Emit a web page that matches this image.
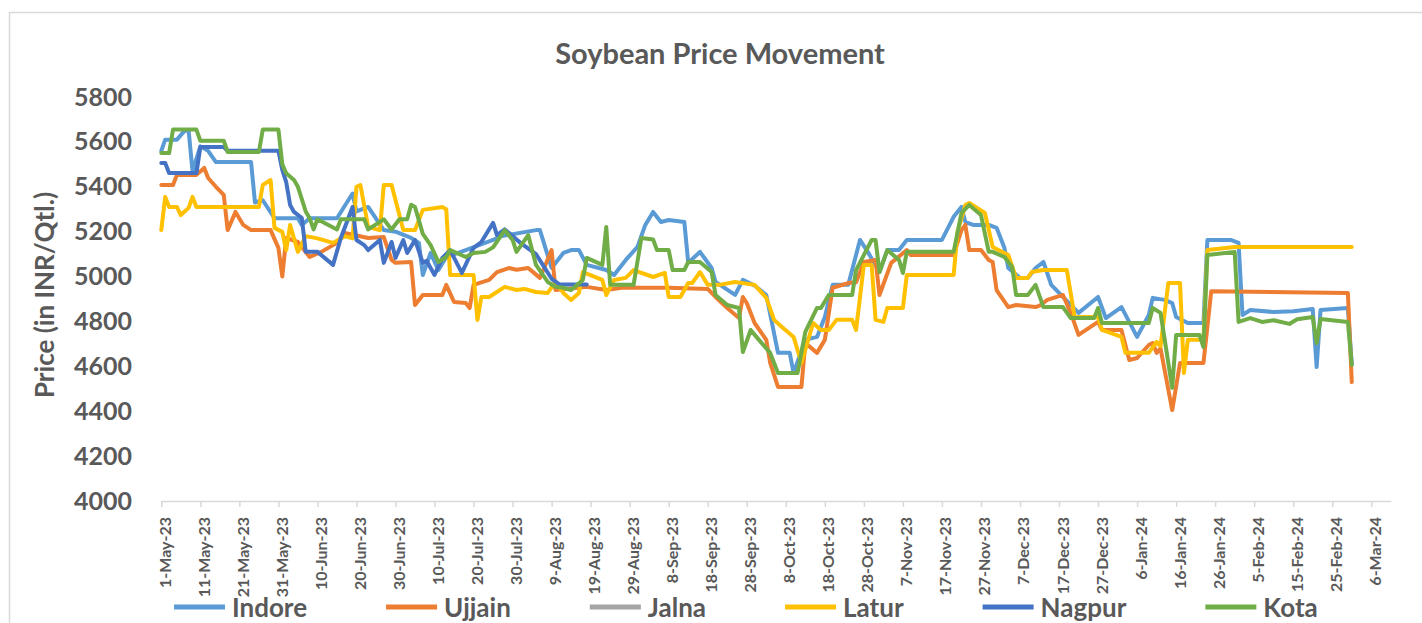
<!DOCTYPE html>
<html>
<head>
<meta charset="utf-8">
<script src="https://cdn.jsdelivr.net/npm/d3@7"></script>
<style>
  body { margin: 0; background: #fff; }
  text { font-family: Lato, 'Open Sans', sans-serif; font-weight: 700; fill: #595959; }
</style>
</head>
<body>
<div id="chart"></div>
<script>
// x values are days counted from 1-May-23, y values are INR/Qtl.
const startDate = new Date(2023, 4, 1)

const indore = [[0,5560],[1,5610],[4,5610],[6,5650],[7,5650],[8,5470],[10,5580],[12,5560],[14,5510],[23,5510],[24,5330],[26,5340],[29,5260],[35,5260],[36,5230],[38,5260],[45,5260],[49,5370],[50,5290],[53,5310],[57,5207],[60,5200],[64,5172],[66,5150],[67,5007],[69,5105],[71,5029],[73,5087],[78,5118],[85,5163],[87,5180],[96,5207],[97,5207],[100,5038],[103,5105],[105,5118],[107,5118],[109,5052],[114,5029],[116,5007],[119,5074],[122,5132],[124,5230],[126,5288],[128,5243],[130,5252],[134,5243],[135,5061],[138,5110],[141,5038],[142,4976],[147,4918],[149,4985],[152,4960],[155,4918],[158,4660],[161,4660],[162,4570],[165,4718],[168,4731],[170,4820],[172,4963],[176,4963],[179,5163],[181,5110],[184,5020],[186,5118],[189,5118],[191,5163],[200,5163],[203,5266],[205,5310],[206,5243],[208,5230],[212,5230],[214,5217],[216,5128],[217,5038],[220,4994],[222,4994],[224,5038],[226,5065],[228,4963],[235,4838],[240,4909],[242,4815],[246,4864],[250,4731],[253,4829],[254,4905],[257,4896],[259,4882],[260,4820],[263,4793],[267,4793],[268,5163],[274,5163],[276,5150],[277,4829],[279,4851],[285,4842],[290,4845],[295,4855],[296,4597],[297,4851],[304,4860],[305,4610]]

const ujjain = [[0,5408],[3,5408],[4,5453],[9,5453],[11,5484],[12,5439],[14,5400],[16,5364],[17,5207],[19,5288],[21,5230],[23,5207],[28,5207],[30,5128],[31,5000],[32,5172],[35,5154],[38,5087],[41,5110],[45,5150],[47,5194],[53,5172],[57,5176],[59,5074],[60,5061],[64,5065],[65,4873],[67,4918],[72,4918],[73,4963],[75,4887],[78,4882],[79,4860],[80,4963],[84,4985],[86,5020],[89,5038],[91,5030],[94,5038],[97,4994],[100,5118],[101,4940],[109,4954],[114,4940],[118,4950],[121,4950],[130,4950],[140,4945],[142,4909],[145,4860],[148,4815],[149,4909],[150,4882],[152,4793],[155,4718],[156,4615],[158,4508],[164,4508],[165,4704],[168,4660],[170,4718],[172,4950],[176,4971],[178,4975],[180,5065],[183,5074],[184,4918],[187,5061],[191,5118],[192,5096],[203,5096],[205,5207],[206,5230],[207,5118],[210,5118],[212,5074],[213,5065],[214,4940],[217,4864],[219,4873],[224,4864],[225,4870],[227,4896],[231,4918],[233,4838],[235,4740],[240,4798],[241,4762],[246,4762],[248,4628],[250,4637],[253,4695],[254,4704],[255,4660],[256,4680],[259,4405],[261,4615],[267,4615],[269,4935],[304,4927],[305,4530]]

const jalna = []

const latur = [[0,5207],[1,5355],[2,5310],[4,5310],[5,5274],[7,5306],[8,5355],[9,5310],[25,5310],[26,5408],[28,5430],[29,5217],[31,5199],[32,5118],[33,5230],[35,5110],[37,5180],[40,5170],[44,5150],[47,5180],[49,5170],[50,5400],[51,5408],[53,5221],[56,5207],[57,5408],[59,5408],[62,5207],[65,5207],[67,5297],[72,5310],[73,5300],[74,5007],[80,5007],[81,4807],[82,4909],[84,4909],[88,4954],[91,4940],[93,4945],[96,4931],[99,4927],[101,4976],[103,4927],[105,4896],[107,4927],[108,5020],[113,4985],[114,4918],[116,4985],[119,4994],[121,5029],[126,4998],[129,5016],[130,4909],[133,4909],[135,4971],[136,4971],[138,5020],[140,4963],[143,4963],[147,4976],[152,4963],[155,4905],[157,4807],[159,4775],[162,4731],[164,4615],[167,4793],[169,4762],[171,4762],[173,4807],[177,4807],[178,4762],[180,5052],[182,5052],[183,4807],[185,4798],[186,4860],[190,4860],[191,5007],[203,5007],[204,5200],[206,5319],[207,5328],[211,5283],[213,5132],[217,5096],[219,4994],[222,4994],[223,5020],[226,5029],[232,5029],[234,4820],[240,4820],[241,4762],[246,4731],[247,4660],[253,4660],[255,4709],[256,4690],[258,4971],[261,4971],[262,4570],[263,4718],[267,4718],[268,5118],[275,5132],[305,5132]]

const nagpur = [[0,5506],[1,5506],[2,5461],[9,5461],[10,5577],[16,5577],[17,5560],[30,5560],[31,5475],[32,5421],[33,5319],[34,5288],[36,5261],[37,5110],[40,5110],[44,5052],[46,5172],[49,5310],[50,5163],[52,5140],[53,5118],[56,5163],[57,5061],[59,5154],[60,5083],[62,5163],[63,5105],[65,5163],[67,5061],[68,5070],[70,5007],[72,5083],[74,5118],[77,5016],[80,5128],[82,5154],[85,5239],[86,5185],[88,5210],[92,5150],[96,5100],[100,4990],[102,4965],[109,4965]]

const kota = [[0,5550],[2,5550],[3,5655],[9,5655],[10,5605],[16,5605],[17,5555],[25,5555],[26,5655],[30,5655],[31,5500],[32,5460],[34,5430],[35,5400],[37,5290],[38,5260],[39,5210],[40,5255],[45,5210],[46,5255],[52,5255],[53,5210],[57,5255],[59,5210],[61,5255],[63,5255],[64,5320],[65,5310],[67,5190],[69,5140],[71,5065],[73,5087],[74,5118],[78,5087],[80,5105],[83,5110],[85,5130],[88,5207],[90,5163],[91,5110],[94,5185],[96,5052],[99,4976],[101,4954],[103,4950],[105,4940],[108,4985],[109,5083],[113,5052],[114,5221],[115,4963],[121,4963],[123,5172],[126,5165],[127,5118],[130,5118],[131,5029],[134,5029],[135,5065],[138,5065],[141,5020],[142,4918],[145,4873],[148,4860],[149,4664],[151,4762],[153,4720],[156,4660],[158,4570],[163,4570],[165,4753],[168,4860],[169,4860],[171,4918],[177,4918],[178,5029],[182,5163],[183,5163],[184,5020],[186,5118],[189,5074],[190,5016],[191,5110],[203,5110],[205,5283],[207,5319],[210,5274],[212,5110],[213,5110],[216,5087],[218,5043],[219,4918],[222,4918],[224,4963],[226,4864],[231,4864],[233,4815],[239,4815],[240,4860],[241,4793],[253,4793],[254,4860],[256,4838],[259,4504],[260,4740],[266,4740],[267,4686],[268,5096],[275,5110],[276,4798],[279,4815],[282,4798],[285,4805],[289,4789],[291,4810],[295,4820],[296,4704],[297,4811],[304,4798],[305,4606]]

const seriesNames = ['Indore', 'Ujjain', 'Jalna', 'Latur', 'Nagpur', 'Kota']
const seriesData = [indore, ujjain, jalna, latur, nagpur, kota]
const seriesColors = ['#5B9BD5', '#ED7D31', '#A5A5A5', '#FFC000', '#4472C4', '#70AD47']
const yTicks = [4000, 4200, 4400, 4600, 4800, 5000, 5200, 5400, 5600, 5800]
const xTickDays = d3.range(0, 311, 10)

const width = 1422
const height = 623

const svg = d3
  .select('#chart')
  .append('svg')
  .attr('width', width)
  .attr('height', height)

// chart frame
svg
  .append('rect')
  .attr('x', 9.5)
  .attr('y', 12.5)
  .attr('width', 1430)
  .attr('height', 640)
  .attr('fill', 'none')
  .attr('stroke', '#d9d9d9')
  .attr('stroke-width', 1.5)

const dayToDate = d => d3.timeDay.offset(startDate, d)

const x = d3
  .scaleTime()
  .domain([startDate, dayToDate(315)])
  .range([161.3, 1390.8])

const y = d3
  .scaleLinear()
  .domain([4000, 5800])
  .range([501, 97])

svg
  .append('text')
  .attr('x', 720)
  .attr('y', 64)
  .attr('text-anchor', 'middle')
  .style('font-size', '29px')
  .text('Soybean Price Movement')

svg
  .append('text')
  .attr('transform', 'translate(54,295) rotate(-90)')
  .attr('text-anchor', 'middle')
  .style('font-size', '26px')
  .text('Price (in INR/Qtl.)')

// y axis: labels only
const yAxis = svg
  .append('g')
  .attr('transform', 'translate(161,0)')
  .call(
    d3
      .axisLeft(y)
      .tickValues(yTicks)
      .tickFormat(d3.format('d'))
      .tickSize(0)
      .tickPadding(29)
  )
yAxis.select('.domain').remove()
yAxis.selectAll('text').style('font-size', '25px')

// x axis
const fmt = d3.timeFormat('%-d-%b-%y')
const xAxis = svg
  .append('g')
  .attr('transform', 'translate(0,501)')
  .call(
    d3
      .axisBottom(x)
      .tickValues(xTickDays.map(dayToDate))
      .tickFormat(fmt)
      .tickSize(6)
      .tickSizeOuter(0)
  )
xAxis.select('.domain').attr('stroke', '#d9d9d9').attr('stroke-width', 1.5)
xAxis.selectAll('.tick line').attr('stroke', '#d9d9d9').attr('stroke-width', 1.5)
xAxis
  .selectAll('text')
  .attr('transform', 'rotate(-90)')
  .attr('x', -16)
  .attr('y', 9)
  .attr('dy', 0)
  .style('text-anchor', 'end')
  .style('font-size', '16px')

const line = d3
  .line()
  .x(d => x(dayToDate(d[0])))
  .y(d => y(d[1]))

seriesData.forEach((data, i) => {
  if (!data.length) return
  svg
    .append('path')
    .datum(data)
    .attr('fill', 'none')
    .attr('stroke', seriesColors[i])
    .attr('stroke-width', 4)
    .attr('stroke-linejoin', 'round')
    .attr('stroke-linecap', 'round')
    .attr('d', line)
})

// legend
let cursor = 174
seriesNames.forEach((name, i) => {
  const g = svg.append('g')
  g.append('line')
    .attr('x1', cursor)
    .attr('x2', cursor + 51)
    .attr('y1', 607)
    .attr('y2', 607)
    .attr('stroke', seriesColors[i])
    .attr('stroke-width', 5)
  const t = g
    .append('text')
    .attr('x', cursor + 58)
    .attr('y', 617)
    .style('font-size', '26px')
    .text(name)
  cursor += 58 + t.node().getComputedTextLength() + 79
})
</script>
</body>
</html>
